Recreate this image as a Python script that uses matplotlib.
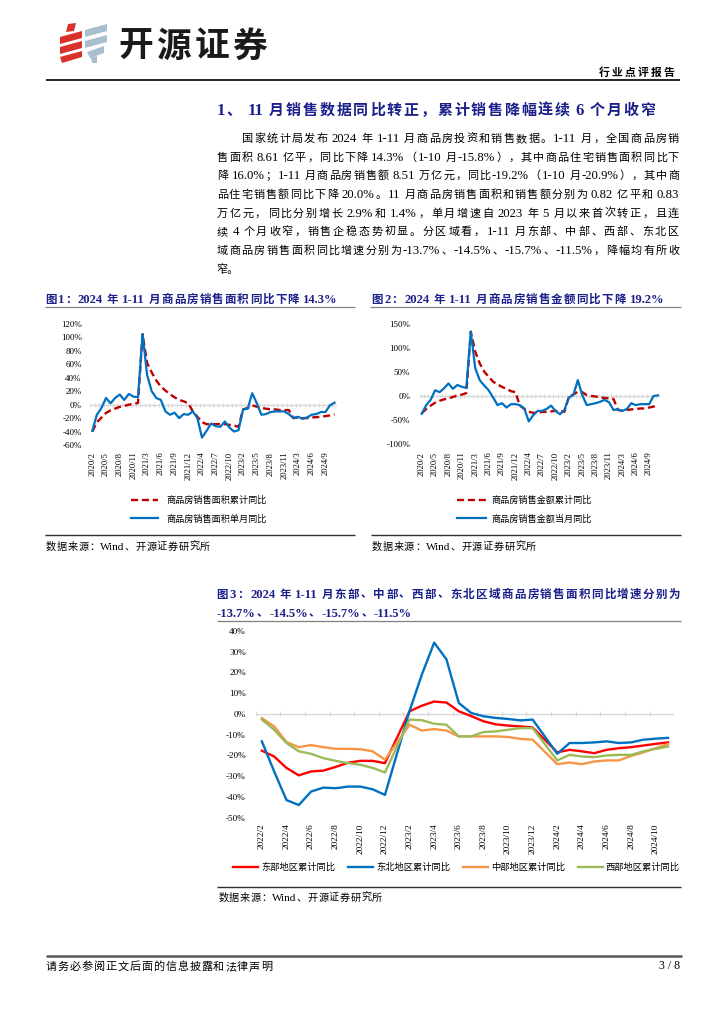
import matplotlib
matplotlib.use('Agg')
import matplotlib.pyplot as plt
from matplotlib.lines import Line2D
from matplotlib.patches import Polygon
import numpy as np

# ---------------- data ----------------
months = ['2020/2', '2020/3', '2020/4', '2020/5', '2020/6', '2020/7', '2020/8', '2020/9', '2020/10', '2020/11', '2020/12',
          '2021/2', '2021/3', '2021/4', '2021/5', '2021/6', '2021/7', '2021/8', '2021/9', '2021/10', '2021/11', '2021/12',
          '2022/2', '2022/3', '2022/4', '2022/5', '2022/6', '2022/7', '2022/8', '2022/9', '2022/10', '2022/11', '2022/12',
          '2023/2', '2023/3', '2023/4', '2023/5', '2023/6', '2023/7', '2023/8', '2023/9', '2023/10', '2023/11', '2023/12',
          '2024/2', '2024/3', '2024/4', '2024/5', '2024/6', '2024/7', '2024/8', '2024/9', '2024/10', '2024/11']

area_cum = [-39.9, -26.3, -19.3, -12.3, -8.4, -5.8, -3.3, -1.8, 0.0, 1.3, 2.6,
            104.9, 62, 48, 36, 27, 21, 15.5, 11, 7, 5, 2,
            -10, -18, -26, -29, -29, -29, -29, -29, -30, -31, -33,
            -7, -5, -1, -3, -5, -6, -7, -7, -8, -8, -8,
            -20, -19, -20, -20, -19, -18.6, -18, -17, -16, -14.3]
area_mon = [-39, -15, -5, 10, 2, 10, 15, 7, 16, 12, 11,
            105, 44, 20, 10, 7, -10, -15, -12, -20, -14, -15,
            -10, -20, -49, -39, -28, -32, -33, -25, -34, -40, -38,
            -7, -6, 17, 2, -15, -14, -11, -10, -10, -10, -14,
            -20, -18, -21, -19, -15, -14, -11, -11, -1, 2.9]

value_cum = [-36, -27, -20, -14, -10, -7, -5, -2, 1, 3, 6,
             134, 92, 68, 51, 40, 30, 24, 19, 15, 10, 8,
             -20, -27, -33, -35, -35, -33, -33, -32, -31, -31, -33,
             -1, 3, 9, 8, 2, 0, -1, -3, -4, -5, -6,
             -29, -31, -29, -28, -27, -26, -26, -24, -22, -19.2]
value_mon = [-37, -19, -8, 12, 8, 16, 26, 15, 23, 19, 17,
             134, 58, 33, 22, 12, -3, -19, -15, -24, -17, -17,
             -19, -26, -53, -40, -31, -31, -27, -20, -31, -38, -29,
             -3, 2, 33, 2, -19, -17, -15, -12, -8, -13, -29,
             -28, -31, -27, -15, -19, -17, -17, -17, 0, 1.4]

# chart 3: category slots include January (no data in January)
slots3 = ['2022/2', '2022/3', '2022/4', '2022/5', '2022/6', '2022/7', '2022/8', '2022/9', '2022/10', '2022/11', '2022/12',
          '2023/1', '2023/2', '2023/3', '2023/4', '2023/5', '2023/6', '2023/7', '2023/8', '2023/9', '2023/10', '2023/11', '2023/12',
          '2024/1', '2024/2', '2024/3', '2024/4', '2024/5', '2024/6', '2024/7', '2024/8', '2024/9', '2024/10', '2024/11']
months3 = ['2022/2', '2022/3', '2022/4', '2022/5', '2022/6', '2022/7', '2022/8', '2022/9', '2022/10', '2022/11', '2022/12',
           '2023/2', '2023/3', '2023/4', '2023/5', '2023/6', '2023/7', '2023/8', '2023/9', '2023/10', '2023/11', '2023/12',
           '2024/2', '2024/3', '2024/4', '2024/5', '2024/6', '2024/7', '2024/8', '2024/9', '2024/10', '2024/11']
east = [-17.7, -20.5, -26, -29.6, -27.7, -27.3, -25.5, -23.5, -22.6, -22.6, -23.7,
        1.3, 4, 6, 5.5, 1.3, -1, -3.5, -5, -5.6, -6, -6.5,
        -18.5, -17.3, -18, -18.9, -17.3, -16.5, -16, -15.2, -14.4, -13.7]
northeast = [-13.2, -27.7, -41.5, -43.9, -37.4, -35.5, -35.8, -35, -35, -36.3, -39,
             1.5, 19, 34.4, 26.3, 5.3, 0.5, -1.1, -1.9, -2.4, -3.1, -2.7,
             -19.2, -14, -14, -13.7, -13.2, -14, -13.7, -12.4, -11.9, -11.5]
central = [-2, -6, -13.5, -16, -15, -16, -16.8, -16.8, -17, -18, -22,
           -5.2, -8, -7.3, -8, -10.8, -10.8, -10.8, -10.8, -11.1, -12, -12.4,
           -24.2, -23.4, -24.2, -22.9, -22.4, -22.4, -20.2, -18.5, -16.5, -14.5]
west = [-2.7, -7.6, -14, -18, -19.2, -21.3, -22.6, -23.7, -24.5, -26, -28.2,
        -2.7, -3, -4.7, -5.2, -10.8, -10.8, -8.7, -8.4, -7.6, -6.8, -6.8,
        -22.4, -19.7, -20.5, -20.8, -20, -19.7, -19.7, -18, -16.8, -15.7]

yt1 = [-60, -40, -20, 0, 20, 40, 60, 80, 100, 120]
yt2 = [-100, -50, 0, 50, 100, 150]
yt3 = [-50, -40, -30, -20, -10, 0, 10, 20, 30, 40]

# ---------------- setup ----------------
W, H = 724, 1024
FAM = ['Liberation Serif', 'Noto Sans CJK SC', 'DejaVu Sans']
plt.rcParams['font.family'] = FAM
NAVY = '#1B1F8A'
BLUE = '#0070C0'
DRED = '#C00000'

fig = plt.figure(figsize=(W / 100, H / 100), dpi=100)
renderer = fig.canvas.get_renderer()


def fx(x):
    return x / W


def fy(y):
    return 1 - y / H


def is_cjk(ch):
    return ord(ch) >= 0x2E80


def tokens(s):
    toks, buf = [], ''
    for ch in s:
        if ch == ' ':
            if buf:
                toks.append(buf)
                buf = ''
            toks.append(' ')
        elif is_cjk(ch):
            if buf:
                toks.append(buf)
                buf = ''
            toks.append(ch)
        else:
            buf += ch
    if buf:
        toks.append(buf)
    return toks


def jtext(s, x0, x1, yc, size, color='black', weight='normal', latin_scale=1.0):
    em = size * 100 / 72
    base = yc + 0.38 * em
    toks = tokens(s)
    arts, widths = [], []
    for t in toks:
        if t == ' ':
            arts.append(None)
            widths.append(0.25 * em)
            continue
        sz = size if is_cjk(t[0]) else size * latin_scale
        a = fig.text(0, fy(base), t, fontsize=sz, color=color, weight=weight,
                     family=FAM, ha='left', va='baseline')
        arts.append(a)
        widths.append(a.get_window_extent(renderer).width)
    n_real = sum(1 for a in arts if a is not None)
    gap = (x1 - x0 - sum(widths)) / max(n_real - 1, 1)
    x = x0
    for a, w in zip(arts, widths):
        if a is None:
            x += w
            continue
        a.set_x(fx(x))
        x += w + gap


def hline(x0, x1, y, color, lw):
    fig.add_artist(Line2D([fx(x0), fx(x1)], [fy(y), fy(y)], transform=fig.transFigure,
                          color=color, lw=lw, solid_capstyle='butt'))


def add_ax(l, t, r, b):
    ax = fig.add_axes([fx(l), fy(b), (r - l) / W, (b - t) / H])
    for s in ax.spines.values():
        s.set_visible(False)
    ax.patch.set_alpha(0)
    return ax


# ---------------- header ----------------
red_polys = [[(68, 24), (76, 23), (74, 31), (66, 32)],
             [(60, 37), (82, 31), (82, 38), (60, 44)],
             [(60, 47), (82, 41), (82, 48), (60, 54)],
             [(60, 57), (82, 51), (82, 57), (62, 63)]]
blue_polys = [[(85, 30), (107, 24), (107, 31), (85, 37)],
              [(85, 41), (107, 35), (107, 42), (85, 48)],
              [(87, 52), (104, 46), (104, 53), (90, 58)],
              [(91, 57), (97, 56), (97, 63), (92, 63)]]
for p in red_polys:
    fig.add_artist(Polygon([(fx(a), fy(b)) for a, b in p], closed=True, transform=fig.transFigure,
                           facecolor='#D9312B', edgecolor='none'))
for p in blue_polys:
    fig.add_artist(Polygon([(fx(a), fy(b)) for a, b in p], closed=True, transform=fig.transFigure,
                           facecolor='#A9BFCD', edgecolor='none'))
jtext('开源证券', 118, 267, 43.5, 25, color='#1a1a1a', weight='bold')
jtext('行业点评报告', 599, 674, 72, 7.8, weight='bold')
hline(46, 680, 80, 'black', 1.2)

# ---------------- heading & body ----------------
jtext('1、 11 月销售数据同比转正，累计销售降幅连续 6 个月收窄', 216.7, 655, 109, 10.8, color=NAVY, weight='bold',
      latin_scale=1.12)

body = ['国家统计局发布 2024 年 1-11 月商品房投资和销售数据。1-11 月，全国商品房销',
        '售面积 8.61 亿平，同比下降 14.3%（1-10 月-15.8%），其中商品住宅销售面积同比下',
        '降 16.0%；1-11 月商品房销售额 8.51 万亿元，同比-19.2%（1-10 月-20.9%），其中商',
        '品住宅销售额同比下降 20.0%。11 月商品房销售面积和销售额分别为 0.82 亿平和 0.83',
        '万亿元，同比分别增长 2.9%和 1.4%，单月增速自 2023 年 5 月以来首次转正，且连',
        '续 4 个月收窄，销售企稳态势初显。分区域看，1-11 月东部、中部、西部、东北区',
        '域商品房销售面积同比增速分别为-13.7%、-14.5%、-15.7%、-11.5%，降幅均有所收']
BODY_FS = 8.0
for i, line in enumerate(body):
    x0 = 241.7 if i == 0 else 216.7
    jtext(line, x0, 679, 137.7 + 18.67 * i, BODY_FS, latin_scale=1.15)
fig.text(fx(216.7), fy(137.7 + 18.67 * 7 + 0.38 * BODY_FS * 100 / 72), '窄。', fontsize=BODY_FS,
         family=FAM, ha='left', va='baseline')

# ---------------- chart titles ----------------
jtext('图1：2024 年 1-11 月商品房销售面积同比下降 14.3%', 45, 337.7, 298.3, 8.3, color=NAVY, weight='bold',
      latin_scale=1.1)
jtext('图2：2024 年 1-11 月商品房销售金额同比下降 19.2%', 371.7, 664, 298.3, 8.3, color=NAVY, weight='bold',
      latin_scale=1.1)
hline(45, 355, 307, '#808080', 0.9)
hline(370, 680.7, 307, '#808080', 0.9)

x = np.arange(len(months))

# ---------------- chart 1 ----------------
ax1 = add_ax(90, 324, 336.8, 445)
ax1.set_xlim(-0.5, len(months) - 0.5)
ax1.set_ylim(yt1[0], yt1[-1])
ax1.axhline(0, color='#D9D9D9', lw=1.0, zorder=0)
ax1.vlines(np.arange(len(months) + 1) - 0.5, -3, 3, color='#D9D9D9', lw=0.8, zorder=0)
l1r, = ax1.plot(x, area_cum, color=DRED, lw=1.7, ls=(0, (3, 1.6)))
l1b, = ax1.plot(x, area_mon, color=BLUE, lw=1.6)
ax1.set_yticks(yt1)
ax1.set_yticklabels([f'{v}%' for v in yt1], fontsize=6.5)
ax1.set_xticks(x[::3])
ax1.set_xticklabels(months[::3], rotation=90, fontsize=6.1)
ax1.tick_params(axis='y', length=0, pad=6)
ax1.tick_params(axis='x', length=0, pad=4.8)
ax1.legend(handles=[l1r, l1b], labels=['商品房销售面积累计同比', '商品房销售面积单月同比'],
           loc='upper left', bbox_to_anchor=(fx(130.7), fy(496)), bbox_transform=fig.transFigure,
           frameon=False, fontsize=6.6, handlelength=3.0, handletextpad=0.9, labelspacing=1.0,
           borderpad=0, borderaxespad=0)

# ---------------- chart 2 ----------------
ax2 = add_ax(419.5, 324, 660.3, 444)
ax2.set_xlim(-0.5, len(months) - 0.5)
ax2.set_ylim(yt2[0], yt2[-1])
ax2.axhline(0, color='#D9D9D9', lw=1.0, zorder=0)
ax2.vlines(np.arange(len(months) + 1) - 0.5, -4, 4, color='#D9D9D9', lw=0.8, zorder=0)
l2r, = ax2.plot(x, value_cum, color=DRED, lw=1.7, ls=(0, (3, 1.6)))
l2b, = ax2.plot(x, value_mon, color=BLUE, lw=1.6)
ax2.set_yticks(yt2)
ax2.set_yticklabels([f'{v}%' for v in yt2], fontsize=6.5)
ax2.set_xticks(x[::3])
ax2.set_xticklabels(months[::3], rotation=90, fontsize=6.2)
ax2.tick_params(axis='y', length=0, pad=6.8)
ax2.tick_params(axis='x', length=0, pad=5.5)
ax2.legend(handles=[l2r, l2b], labels=['商品房销售金额累计同比', '商品房销售金额当月同比'],
           loc='upper left', bbox_to_anchor=(fx(456.7), fy(496)), bbox_transform=fig.transFigure,
           frameon=False, fontsize=6.6, handlelength=3.2, handletextpad=0.6, labelspacing=1.0,
           borderpad=0, borderaxespad=0)

# sources row
hline(45, 355, 535, '#303030', 1.0)
hline(370.7, 680.7, 535, '#303030', 1.0)
jtext('数据来源：Wind、开源证券研究所', 46, 210, 545.7, 7.3, latin_scale=1.1)
jtext('数据来源：Wind、开源证券研究所', 371.7, 536, 545.7, 7.3, latin_scale=1.1)

# ---------------- chart 3 ----------------
jtext('图3：2024 年 1-11 月东部、中部、西部、东北区域商品房销售面积同比增速分别为', 216.7, 680, 593.3, 8.3,
      color=NAVY, weight='bold', latin_scale=1.1)
jtext('-13.7%、-14.5%、-15.7%、-11.5%', 216.7, 411.7, 612.3, 8.3, color=NAVY, weight='bold', latin_scale=1.1)
hline(216.7, 680.7, 621, '#808080', 0.9)

ax3 = add_ax(255.7, 631, 674.2, 817.7)
ax3.set_xlim(-0.5, len(slots3) - 0.5)
ax3.set_ylim(yt3[0], yt3[-1])
x3 = np.array([slots3.index(m) for m in months3])
ax3.axhline(0, color='#D9D9D9', lw=1.0, zorder=0)
ax3.vlines(np.arange(-0.5, len(slots3), 2), -1.2, 1.2, color='#D9D9D9', lw=0.8, zorder=0)
l3a, = ax3.plot(x3, east, color='#FF0000', lw=1.7)
l3b, = ax3.plot(x3, northeast, color=BLUE, lw=1.7)
l3c, = ax3.plot(x3, central, color='#F79646', lw=1.7)
l3d, = ax3.plot(x3, west, color='#9BBB59', lw=1.7)
ax3.set_yticks(yt3)
ax3.set_yticklabels([f'{v}%' for v in yt3], fontsize=6.6)
ax3.set_xticks(np.arange(0, len(slots3) - 1, 2))
ax3.set_xticklabels(slots3[0:len(slots3) - 1:2], rotation=90, fontsize=6.7)
ax3.tick_params(axis='y', length=0, pad=7)
ax3.tick_params(axis='x', length=0, pad=4)
ax3.legend(handles=[l3a, l3b, l3c, l3d], labels=['东部地区累计同比', '东北地区累计同比', '中部地区累计同比', '西部地区累计同比'],
           loc='upper left', bbox_to_anchor=(fx(233), fy(863)), bbox_transform=fig.transFigure,
           ncol=4, frameon=False, fontsize=6.7, handlelength=2.7, handletextpad=0.3, columnspacing=1.4,
           borderpad=0, borderaxespad=0)

hline(216.7, 680.7, 886.7, '#303030', 1.0)
jtext('数据来源：Wind、开源证券研究所', 218.3, 382, 896.7, 7.3, latin_scale=1.1)

# ---------------- footer ----------------
hline(46, 682, 955.7, '#595959', 1.8)
jtext('请务必参阅正文后面的信息披露和法律声明', 46, 272, 966, 8)
fig.text(fx(680), fy(969), '3 / 8', fontsize=8.5, family=FAM, ha='right', va='baseline')

fig.savefig('out.png', dpi=100)
